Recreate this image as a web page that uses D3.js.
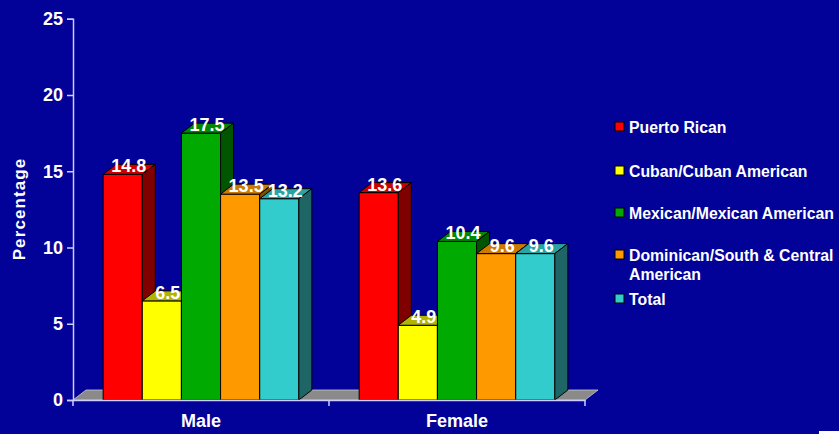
<!DOCTYPE html>
<html>
<head>
<meta charset="utf-8">
<script src="https://cdn.jsdelivr.net/npm/d3@7"></script>
<style>
  html, body { margin: 0; padding: 0; background: #020299; }
  svg { display: block; font-family: "Liberation Sans", Arial, sans-serif; font-weight: bold; }
</style>
</head>
<body>
<svg id="chart" width="839" height="434"></svg>
<script>
// data
const groups = ["Male", "Female"];
const series = ["Puerto Rican", "Cuban/Cuban American", "Mexican/Mexican American", "Dominican/South & Central American", "Total"];
const legendLines = [["Puerto Rican"], ["Cuban/Cuban American"], ["Mexican/Mexican American"], ["Dominican/South & Central", "American"], ["Total"]];
const maleVals = [14.8, 6.5, 17.5, 13.5, 13.2];
const femaleVals = [13.6, 4.9, 10.4, 9.6, 9.6];
const yTicks = [0, 5, 10, 15, 20, 25];

const colors = ["#ff0000", "#ffff00", "#00aa00", "#ff9900", "#33cccc"];
const tops   = ["#cc0000", "#b3b300", "#008800", "#cc7a00", "#29a3a3"];
const sides  = ["#800000", "#808000", "#005500", "#805000", "#1e6666"];

const svg = d3.select("#chart");
const dx = 13, dy = 10;   // 3d depth offset
const axisCol = "#ccccff";

let y = d3.scaleLinear().domain([0, 25]).range([400, 18.75]);
let x0 = d3.scaleBand().domain(groups).range([73, 585]);
let x1 = d3.scaleBand().domain(series).range([0, x0.bandwidth()]).paddingOuter(0.77);

// floor
svg.append("polygon")
  .attr("points", [[73, y(0)], [585, y(0)], [585 + dx, y(0) - dy], [73 + dx, y(0) - dy]].join(" "))
  .attr("fill", "#8a8a8a")
  .attr("stroke", "#c8c8c8")
  .attr("stroke-width", 0.8);

// bars
const rows = [];
groups.forEach(function(g, gi) {
  const vals = gi == 0 ? maleVals : femaleVals;
  series.forEach(function(s, i) {
    rows.push({g: g, s: s, i: i, v: vals[i]});
  });
});

rows.forEach(function(d) {
  const xl = x0(d.g) + x1(d.s);
  const w = x1.bandwidth();
  const yt = y(d.v), yb = y(0);
  const bar = svg.append("g");
  bar.append("rect")
    .attr("x", xl).attr("y", yt).attr("width", w).attr("height", yb - yt)
    .attr("fill", colors[d.i]).attr("stroke", "#000").attr("stroke-width", 1);
  bar.append("polygon")
    .attr("points", [[xl, yt], [xl + w, yt], [xl + w + dx, yt - dy], [xl + dx, yt - dy]].join(" "))
    .attr("fill", tops[d.i]).attr("stroke", "#000").attr("stroke-width", 1);
  bar.append("polygon")
    .attr("points", [[xl + w, yt], [xl + w + dx, yt - dy], [xl + w + dx, yb - dy], [xl + w, yb]].join(" "))
    .attr("fill", sides[d.i]).attr("stroke", "#000").attr("stroke-width", 1);
});

// value labels
svg.append("g").selectAll("text")
  .data(rows)
  .join("text")
  .attr("x", d => x0(d.g) + x1(d.s) + x1.bandwidth() / 2 + 6)
  .attr("y", d => y(d.v) - 2)
  .attr("text-anchor", "middle")
  .attr("fill", "#fff")
  .attr("font-size", 18)
  .text(d => d.v);

// y axis
const yAxis = svg.append("g")
  .attr("transform", "translate(73,0)")
  .call(d3.axisLeft(y).tickValues(yTicks).tickSize(6).tickPadding(4));
yAxis.select(".domain").attr("stroke", axisCol).attr("stroke-width", 1.5);
yAxis.selectAll(".tick line").attr("stroke", axisCol).attr("stroke-width", 1.5);
yAxis.selectAll(".tick text").attr("fill", "#fff").attr("font-size", 18).attr("font-family", null);

// x axis
const xAxis = svg.append("g")
  .attr("transform", "translate(0,400)")
  .call(d3.axisBottom(x0).tickSize(0).tickPadding(14).tickSizeOuter(0));
xAxis.select(".domain").attr("stroke", axisCol).attr("stroke-width", 1.5);
xAxis.selectAll(".tick text").attr("fill", "#fff").attr("font-size", 18).attr("font-family", null);
// tick marks between categories
svg.append("g").selectAll("line")
  .data([73, x0("Female"), 585])
  .join("line")
  .attr("x1", d => d).attr("x2", d => d)
  .attr("y1", 400).attr("y2", 406)
  .attr("stroke", axisCol).attr("stroke-width", 1.5);

// axis title
svg.append("text")
  .attr("transform", "translate(25,209) rotate(-90)")
  .attr("text-anchor", "middle")
  .attr("fill", "#fff")
  .attr("font-size", 17)
  .attr("letter-spacing", 1.1)
  .text("Percentage");

// legend
const legY = [127, 171, 213, 255, 299];
const leg = svg.append("g").selectAll("g")
  .data(legendLines)
  .join("g")
  .attr("transform", (d, i) => "translate(615," + legY[i] + ")");
leg.append("rect")
  .attr("x", 0).attr("y", -5).attr("width", 9).attr("height", 9)
  .attr("fill", (d, i) => colors[i])
  .attr("stroke", "#000").attr("stroke-width", 1);
leg.append("text")
  .attr("x", 14)
  .attr("fill", "#fff")
  .attr("font-size", 15.8)
  .selectAll("tspan")
  .data(d => d)
  .join("tspan")
  .attr("x", 14)
  .attr("y", (d, j) => 6 + j * 19)
  .text(d => d);

// small white mark in bottom right corner
svg.append("rect").attr("x", 819).attr("y", 431).attr("width", 20).attr("height", 3).attr("fill", "#fff");
</script>
</body>
</html>
